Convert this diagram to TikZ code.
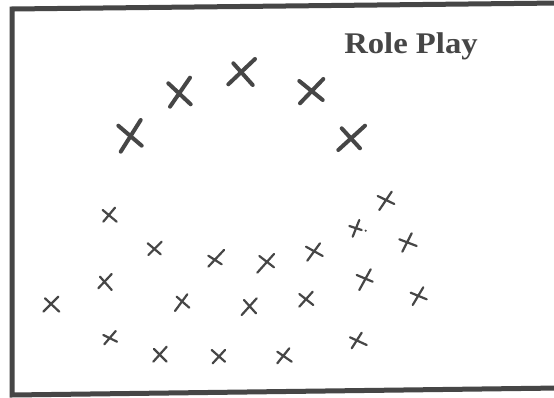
\documentclass[tikz,border=0pt]{standalone}
\usepackage{fontspec}
\setmainfont{Liberation Serif}
\begin{document}
\begin{tikzpicture}[x=1pt,y=-1pt]
\definecolor{ink}{HTML}{464646}
\tikzset{
  frame/.style={draw=ink,line width=5pt,line join=miter},
  bigx/.style={draw=ink,line width=4pt,line cap=round},
  smallx/.style={draw=ink,line width=2.2pt,line cap=round},
  title/.style={text=ink,font=\fontsize{30pt}{32pt}\selectfont\bfseries,inner sep=0pt,anchor=base,xscale=1.09}
}
\useasboundingbox (0,0) rectangle (554,398);
\fill[white] (0,0) rectangle (554,398);
% frame
\draw[frame] (560,3) -- (12,9) -- (12,395) -- (560,388);
% title
\node[title] (t) at (411,53.5) {Role Play};
% big X marks
\draw[bigx] (120.7,151.7) -- (140.7,120) (118.3,125.7) -- (141.7,145.7);
\draw[bigx] (170,106.7) -- (190,77.7) (168.3,83.3) -- (190.7,104.3);
\draw[bigx] (228.3,84.3) -- (255,59) (233.3,63.3) -- (252.7,85);
\draw[bigx] (300,103.3) -- (323.3,79) (299.3,81) -- (322.7,100);
\draw[bigx] (338.3,150) -- (365,125.7) (341.7,128.3) -- (360,148.3);
% small x marks
\draw[smallx] (103.3,221.7) -- (115,207.7) (102.7,210) -- (116.7,221.7);
\draw[smallx] (148.3,255) -- (161.7,241.7) (147.7,243.3) -- (160.7,254.3);
\draw[smallx] (208.3,266.7) -- (224,250) (208.3,255.7) -- (221.7,264.3);
\draw[smallx] (98.3,288.3) -- (111.7,274) (100,276.7) -- (111.7,290);
\draw[smallx] (43.3,311.7) -- (58.3,296.7) (45,298.3) -- (59.3,311.7);
\draw[smallx] (175,311) -- (187.3,294.3) (176.7,296.7) -- (189.3,307.7);
\draw[smallx] (104.3,344.3) -- (115.7,331) (103.3,335) -- (117,341.7);
\draw[smallx] (153.3,361.7) -- (166.7,346.7) (154,349) -- (166.7,361.7);
\draw[smallx] (212.7,363.3) -- (225,350) (211.7,350) -- (225,361.7);
\draw[smallx] (379.3,210) -- (391.7,191.7) (377.7,196) -- (394.3,204);
\draw[smallx] (352.7,236.7) -- (359.3,220) (349.3,226) -- (361.7,230);
\fill[ink] (365.7,230.7) circle (1.2pt);
\draw[smallx] (402.3,251.7) -- (411.7,233.3) (399.3,239.3) -- (416.7,246);
\draw[smallx] (257.3,272.7) -- (274,254) (259.3,256) -- (274,267.3);
\draw[smallx] (307.3,260.7) -- (320,243.3) (306,246.7) -- (322.7,256);
\draw[smallx] (359.3,290) -- (370.7,269.3) (356.7,275) -- (372.7,281.7);
\draw[smallx] (412.7,305) -- (423.3,287.3) (410.7,292.7) -- (426.7,299.3);
\draw[smallx] (241.7,315) -- (256.7,298.3) (244,300) -- (256,313.3);
\draw[smallx] (299.3,306.7) -- (312.7,291.7) (299.3,294) -- (313.3,305);
\draw[smallx] (351.7,348.3) -- (361.7,332.7) (350,337.3) -- (366.7,345);
\draw[smallx] (277.3,363.3) -- (289.3,348.3) (277.3,351.7) -- (291.7,361.7);
\end{tikzpicture}
\end{document}
